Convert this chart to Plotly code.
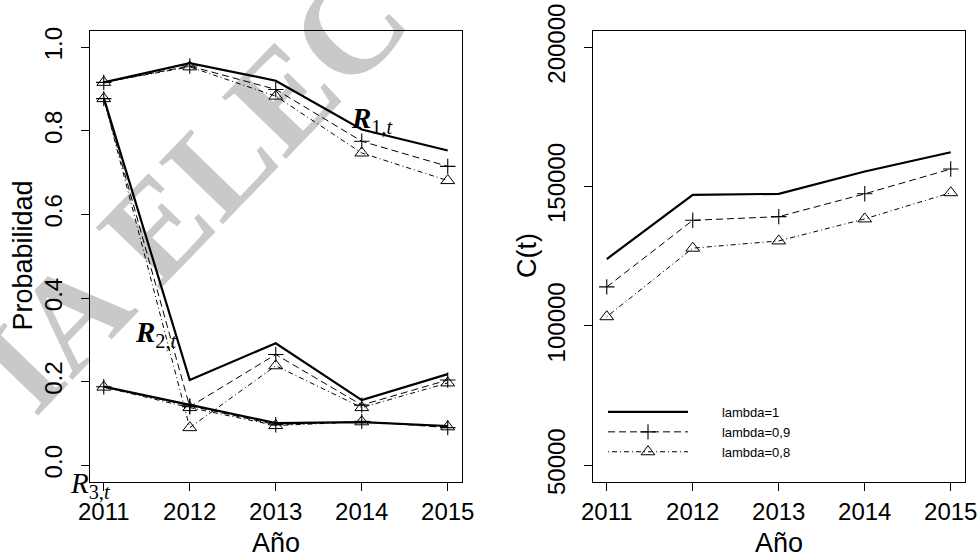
import plotly.graph_objects as go

years = [2011, 2012, 2013, 2014, 2015]

r1_l1 = [0.916, 0.962, 0.920, 0.803, 0.753]
r1_l09 = [0.916, 0.955, 0.899, 0.775, 0.715]
r1_l08 = [0.916, 0.953, 0.883, 0.747, 0.681]
r2_l1 = [0.879, 0.204, 0.292, 0.156, 0.218]
r2_l09 = [0.877, 0.140, 0.265, 0.144, 0.204]
r2_l08 = [0.877, 0.090, 0.238, 0.138, 0.197]
r3_l1 = [0.188, 0.145, 0.101, 0.103, 0.094]
r3_l09 = [0.188, 0.142, 0.097, 0.105, 0.090]
r3_l08 = [0.187, 0.138, 0.095, 0.104, 0.092]

c_l1 = [124000, 147000, 147400, 155400, 162300]
c_l09 = [114000, 137900, 139200, 147400, 156300]
c_l08 = [103300, 127900, 130500, 138400, 147800]

legend_names = ["lambda=1", "lambda=0,9", "lambda=0,8"]
prob_ticks = [0.0, 0.2, 0.4, 0.6, 0.8, 1.0]
prob_ticktext = ["0.0", "0.2", "0.4", "0.6", "0.8", "1.0"]
cost_ticks = [50000, 100000, 150000, 200000]
cost_ticktext = ["50000", "100000", "150000", "200000"]

SANS = "Liberation Sans, Arial, sans-serif"
SERIF = "Liberation Serif, Times New Roman, serif"

styles = [
    dict(line=dict(color="black", width=2.2, dash="solid"), mode="lines", marker=None),
    dict(line=dict(color="black", width=1, dash="7px,4px"), mode="lines+markers",
         marker=dict(symbol="cross-thin-open", size=11, line=dict(color="black", width=1.1))),
    dict(line=dict(color="black", width=1, dash="1px,3px,5px,3px"), mode="lines+markers",
         marker=dict(symbol="triangle-up-open", size=12, color="black", line=dict(color="black", width=1))),
]

fig = go.Figure()

left_series = [
    (r1_l1, r1_l09, r1_l08),
    (r2_l1, r2_l09, r2_l08),
    (r3_l1, r3_l09, r3_l08),
]
for group in left_series:
    for k, vals in enumerate(group):
        st = styles[k]
        kw = dict(x=years, y=vals, mode=st["mode"], line=st["line"], showlegend=False,
                  xaxis="x", yaxis="y", hoverinfo="skip")
        if st["marker"] is not None:
            kw["marker"] = st["marker"]
        fig.add_trace(go.Scatter(**kw))

pad = "\u00a0" * 8
for k, vals in enumerate([c_l1, c_l09, c_l08]):
    st = styles[k]
    kw = dict(x=years, y=vals, mode=st["mode"], line=st["line"], name=pad + legend_names[k],
              showlegend=True, xaxis="x2", yaxis="y2", hoverinfo="skip")
    if st["marker"] is not None:
        kw["marker"] = st["marker"]
    fig.add_trace(go.Scatter(**kw))

W, H = 980, 560
ydom = [1 - 482 / H, 1 - 30.5 / H]

axis_common = dict(
    showgrid=False, zeroline=False, showline=True, mirror=True, linecolor="black",
    linewidth=1, ticks="outside", ticklen=8, tickwidth=1, tickcolor="black",
    automargin=False,
    tickfont=dict(family=SANS, size=24, color="black"),
)

fig.update_layout(
    width=W, height=H, autosize=False,
    margin=dict(l=0, r=0, t=0, b=0, pad=0),
    paper_bgcolor="white", plot_bgcolor="white",
    xaxis=dict(domain=[90 / W, 461.5 / W], range=[2010.84, 2015.16], tickvals=years,
               anchor="y", **axis_common),
    yaxis=dict(domain=ydom, range=[-0.04, 1.04], tickvals=prob_ticks, ticktext=prob_ticktext,
               tickangle=-90, anchor="x", ticklabelstandoff=9, **axis_common),
    xaxis2=dict(domain=[593 / W, 964.5 / W], range=[2010.84, 2015.16], tickvals=years,
                anchor="y2", **axis_common),
    yaxis2=dict(domain=ydom, range=[44000, 206000], tickvals=cost_ticks, ticktext=cost_ticktext,
                tickangle=-90, anchor="x2", ticklabelstandoff=9, **axis_common),
    legend=dict(x=603 / W, y=1 - 397 / H, xanchor="left", yanchor="top",
                bgcolor="rgba(0,0,0,0)", font=dict(family=SANS, size=13, color="black"),
                itemwidth=80, tracegroupgap=0),
)

annotations = [
    dict(text="Probabilidad", x=22.5 / W, y=1 - 256 / H, textangle=-90),
    dict(text="C(t)", x=527 / W, y=1 - 256 / H, textangle=-90),
    dict(text="Año", x=276 / W, y=1 - 543 / H),
    dict(text="Año", x=779 / W, y=1 - 543 / H),
]
for a in annotations:
    fig.add_annotation(xref="paper", yref="paper", showarrow=False,
                       font=dict(family=SANS, size=27, color="black"),
                       xanchor="center", yanchor="middle", **a)

# series labels
labels = [
    ("<b><i>R</i></b><sub>1,<i>t</i></sub>", 349, 120, 29),
    ("<b><i>R</i></b><sub>2,<i>t</i></sub>", 133, 334, 29),
    ("<i>R</i><sub>3,<i>t</i></sub>", 68, 485, 29),
]
for txt, px, py, fs in labels:
    fig.add_annotation(xref="paper", yref="paper", x=px / W, y=1 - py / H, text=txt,
                       showarrow=False, xanchor="left", yanchor="middle",
                       font=dict(family=SERIF, size=fs, color="black"))

# watermark
fig.add_annotation(xref="paper", yref="paper", x=192 / W, y=1 - 190 / H,
                   text="<b>IA ELEC</b>", textangle=-46, showarrow=False,
                   xanchor="center", yanchor="middle",
                   font=dict(family=SERIF, size=136, color="rgba(0,0,0,0.21)"))

fig.write_html("out.html", config={"displayModeBar": False},
               post_script="document.body.style.margin='0px';document.body.style.overflow='hidden';")
